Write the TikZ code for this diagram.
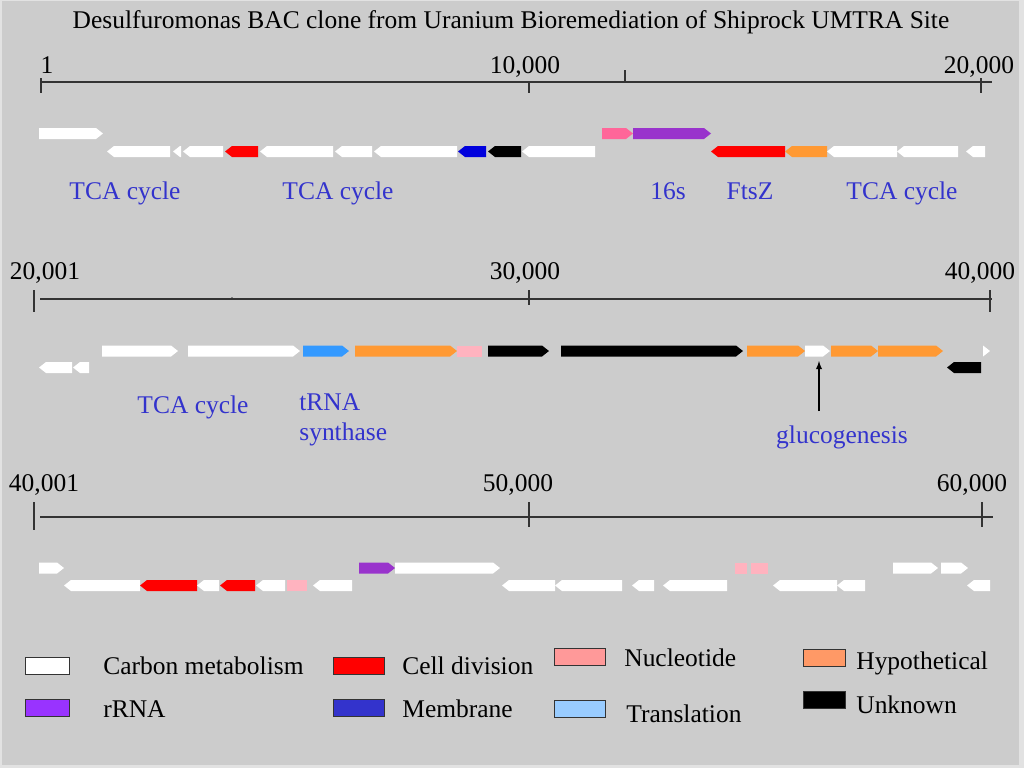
\documentclass[tikz,border=0pt]{standalone}
\usepackage{fontspec}
\setmainfont{Liberation Serif}
\usepackage{xcolor}
\usepackage{tikz}
\usetikzlibrary{positioning}
\usetikzlibrary{arrows,shapes}
\usetikzlibrary{calc}
\definecolor{bg}{HTML}{CCCCCC}
\definecolor{frame}{HTML}{E2E2E2}
\definecolor{labelblue}{HTML}{3333CC}
\definecolor{gred}{HTML}{FF0000}
\definecolor{gblue}{HTML}{0000DD}
\definecolor{ghot}{HTML}{FF6699}
\definecolor{gpurple}{HTML}{9933CC}
\definecolor{gorange}{HTML}{FF9933}
\definecolor{gpink}{HTML}{FFB3BF}
\definecolor{gtrna}{HTML}{3399FF}
\definecolor{kpurple}{HTML}{9933FF}
\definecolor{kblue}{HTML}{3333CC}
\definecolor{kpink}{HTML}{FF9999}
\definecolor{klight}{HTML}{99CCFF}
\definecolor{korange}{HTML}{FF9966}
\tikzstyle{scaleline}=[draw=black!80,line width=1pt]
\tikzstyle{scaletick}=[draw=black!80,line width=0.6pt]
\tikzstyle{lbl}=[font=\fontsize{14.5}{17}\selectfont,inner sep=0pt]
\tikzstyle{glabel}=[lbl,text=labelblue]
\tikzstyle{legbox}=[rectangle,draw=black!80,line width=0.5pt,minimum height=0.34cm,inner sep=0pt]
\tikzset{legtext/.style={lbl,anchor=base west}}

\begin{document}
\begin{tikzpicture}[x=0.02cm,y=-0.02cm]

  \def\h{5.5};
  \def\t{7};

  \fill[frame] (0,0) rectangle (1024,768);
  \fill[bg] (2,1) rectangle (1019,765);
  \useasboundingbox (0,0) rectangle (1024,768);

  \node[lbl,anchor=base] (title) at (511,28) {Desulfuromonas BAC clone from Uranium Bioremediation of Shiprock UMTRA Site};

  % scale bars
  \draw[scaleline] (41,82) -- (992,82);
  \foreach \x/\ya/\yb in {41/78/93, 529/82/93, 625/70/82, 981/78/93}
    \draw[scaletick] (\x,\ya) -- (\x,\yb);
  \draw[scaleline] (40,299) -- (992,299);
  \foreach \x/\ya/\yb in {34/290/312, 529/290/305, 990/290/312}
    \draw[scaletick] (\x,\ya) -- (\x,\yb);
  \fill[black!80] (232,298) circle (1);
  \draw[scaleline] (40,517) -- (993,517);
  \foreach \x/\ya/\yb in {34/502/530, 529/502/527, 982/502/527}
    \draw[scaletick] (\x,\ya) -- (\x,\yb);

  \foreach \x/\y/\name/\label in {47/73/na/1, 525/73/nb/{10,000}, 979/73/nc/{20,000},
                                  45/279/nd/{20,001}, 525/279/ne/{30,000}, 980/279/nf/{40,000},
                                  44/491/ng/{40,001}, 518/491/nh/{50,000}, 972/491/ni/{60,000}}
    \node[lbl,anchor=base] (\name) at (\x,\y) {\label};

  % genes pointing right
  \foreach \a/\b/\y/\c in {39/103/133.5/white, 602/633/133.5/ghot, 633/711/133.5/gpurple,
                           102/178/351/white, 188/300/351/white, 303/349/351/gtrna, 355/457/351/gorange,
                           488/549/351/black, 561/743/351/black, 747/805/351/gorange, 805/830/351/white,
                           831/878/351/gorange, 878/943/351/gorange, 983/990/351/white,
                           39/64/568/white, 359/395/568/gpurple, 395/500/568/white, 893/938/568/white,
                           941/968/568/white}
    \fill[\c] (\a,\y-\h) -- (\b-\t,\y-\h) -- (\b,\y) -- (\b-\t,\y+\h) -- (\a,\y+\h) -- cycle;

  % genes pointing left
  \foreach \a/\b/\y/\c in {107/170/151.5/white, 173/181/151.5/white, 183/223/151.5/white, 225/258/151.5/gred,
                           260/333/151.5/white, 335/372/151.5/white, 374/457/151.5/white, 458/486/151.5/gblue,
                           488/521/151.5/black, 522/595/151.5/white, 711/785/151.5/gred, 785/827/151.5/gorange,
                           827/897/151.5/white, 897/958/151.5/white, 966/985/151.5/white,
                           39/72/367.5/white, 73/89/367.5/white, 947/981/367.5/black,
                           64/140/585.5/white, 140/197/585.5/gred, 197/219/585.5/white, 220/255/585.5/gred,
                           256/285/585.5/white, 313/352/585.5/white, 502/555/585.5/white, 555/622/585.5/white,
                           632/654/585.5/white, 663/727/585.5/white, 773/837/585.5/white, 837/865/585.5/white,
                           967/990/585.5/white}
    \fill[\c] (\b,\y-\h) -- (\a+\t,\y-\h) -- (\a,\y) -- (\a+\t,\y+\h) -- (\b,\y+\h) -- cycle;

  % genes without direction
  \foreach \a/\b/\y in {457/482/351, 287/307/585.5, 735/747/568, 751/768/568}
    \fill[gpink] (\a,\y-\h) rectangle (\b,\y+\h);

  \foreach \x/\y/\name/\label in {125/199/tcaa/TCA cycle, 338/199/tcab/TCA cycle, 668/199/rrna/16s,
                                  750/199/ftsz/FtsZ, 902/199/tcac/TCA cycle, 193/413/tcad/TCA cycle,
                                  842/443/gluco/glucogenesis}
    \node[glabel,anchor=base] (\name) at (\x,\y) {\label};
  \node[glabel,anchor=base west,align=left] (trna) at (299,440) {tRNA\\synthase};

  \coordinate (gtail) at (819,411);
  \coordinate (ghead) at (819,361);
  \draw[-latex,line width=0.6pt] (gtail) -- (ghead);

  % legend
  \foreach \x/\y/\w/\col/\name/\tx/\ty/\txt in {
      47/665.5/0.88/white/kcarb/103/674/Carbon metabolism, 47/708/0.88/kpurple/krrna/103/717/rRNA,
      358.5/666/1.02/gred/kcell/402/674/Cell division, 358.5/708/1.02/kblue/kmemb/402/717/Membrane,
      579.5/657/1.02/kpink/knucl/624/666/Nucleotide, 579.5/708.5/1.02/klight/ktran/626/722/Translation,
      824/657.5/0.84/korange/khypo/856/669/Hypothetical, 824/699.5/0.84/black/kunkn/856/713/Unknown}
  {
    \node[legbox,fill=\col,minimum width=\w cm] (\name) at (\x,\y) {};
    \node[legtext] (\name t) at (\tx,\ty) {\txt};
  }

\end{tikzpicture}
\end{document}
